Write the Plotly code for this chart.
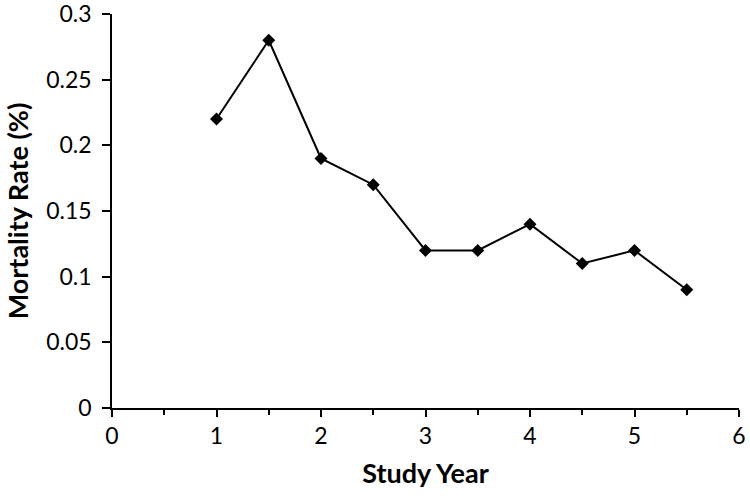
import plotly.graph_objects as go

study_year = [1, 1.5, 2, 2.5, 3, 3.5, 4, 4.5, 5, 5.5]
mortality_rate = [0.22, 0.28, 0.19, 0.17, 0.12, 0.12, 0.14, 0.11, 0.12, 0.09]
x_ticks = [0, 1, 2, 3, 4, 5, 6]
y_ticks = [0, 0.05, 0.1, 0.15, 0.2, 0.25, 0.3]
y_labels = ["0", "0.05", "0.1", "0.15", "0.2", "0.25", "0.3"]

fig = go.Figure()
fig.add_trace(go.Scatter(
    x=study_year, y=mortality_rate, mode="lines+markers",
    line=dict(color="black", width=2),
    marker=dict(symbol="diamond", size=10, color="black"),
    showlegend=False, cliponaxis=False,
))

font_family = "Lato, 'Open Sans', sans-serif"
fig.update_layout(
    width=750, height=498,
    margin=dict(l=112, r=11, t=14, b=90),
    plot_bgcolor="white", paper_bgcolor="white",
    font=dict(family=font_family, color="black", size=23),
    xaxis=dict(
        range=[0, 6], tickvals=x_ticks, showgrid=False, zeroline=False, automargin=False,
        ticklabeloverflow="allow",
        showline=True, linecolor="black", linewidth=1.5,
        ticks="outside", ticklen=7, tickwidth=1.5, tickcolor="black",
        minor=dict(dtick=0.5, ticks="outside", ticklen=5, tickwidth=1.5, tickcolor="black", showgrid=False),
        tickfont=dict(size=23),
        title=dict(text="<b>Study Year</b>", font=dict(size=27), standoff=16),
    ),
    yaxis=dict(
        range=[0, 0.3], tickvals=y_ticks, ticktext=y_labels, showgrid=False, zeroline=False, automargin=False,
        ticklabeloverflow="allow", ticklabelstandoff=6,
        showline=True, linecolor="black", linewidth=1.5,
        ticks="outside", ticklen=8, tickwidth=1.5, tickcolor="black",
        tickfont=dict(size=23),
        title=dict(text="<b>Mortality Rate (%)</b>", font=dict(size=27), standoff=10),
    ),
)

fig.write_html("out.html", config={"displayModeBar": False},
               post_script="document.body.style.margin='0';")
